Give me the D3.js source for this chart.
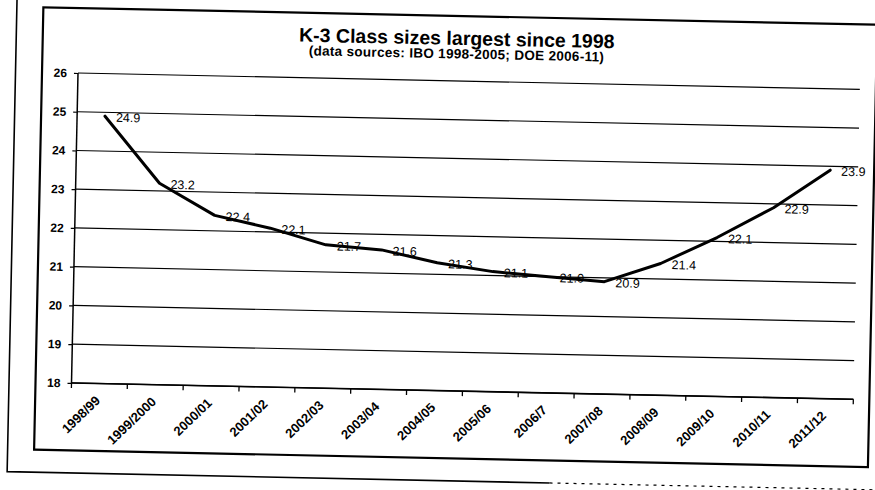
<!DOCTYPE html>
<html>
<head>
<meta charset="utf-8">
<script src="https://cdn.jsdelivr.net/npm/d3@7/dist/d3.min.js"></script>
<style>
  html, body { margin: 0; padding: 0; background: #fff; }
  svg { display: block; }
  text { font-family: "Liberation Sans", Arial, Helvetica, sans-serif; fill: #000; }
</style>
</head>
<body>
<svg id="chart" width="875" height="490"></svg>
<script>
// K-3 average class size by school year
const categories = ["1998/99", "1999/2000", "2000/01", "2001/02", "2002/03", "2003/04", "2004/05",
                    "2005/06", "2006/7", "2007/08", "2008/09", "2009/10", "2010/11", "2011/12"];
const classSize = [24.9, 23.2, 22.4, 22.1, 21.7, 21.6, 21.3, 21.1, 21.0, 20.9, 21.4, 22.1, 22.9, 23.9];
const yTicks = [18, 19, 20, 21, 22, 23, 24, 25, 26];
const title = "K-3 Class sizes largest since 1998";
const subtitle = "(data sources: IBO 1998-2005; DOE 2006-11)";

const plotW = 782, plotH = 310;
const font = "'Liberation Sans', Arial, sans-serif";

const svg = d3.select("#chart");

// the printed page sits slightly askew on the scanner bed
const g = svg.append("g").attr("transform", "translate(78,73) rotate(1.2)");

// page edge (solid on the left, fading to dots on the right) and chart frame
g.append("path")
  .attr("d", "M-62.5,-90 L-62.5,400 L480,400")
  .attr("fill", "none").attr("stroke", "#000").attr("stroke-width", 1.6);
g.append("path")
  .attr("d", "M480,400 L860,400")
  .attr("fill", "none").attr("stroke", "#000").attr("stroke-width", 1.2)
  .attr("stroke-dasharray", "3 5");
g.append("rect")
  .attr("x", -36).attr("y", -65).attr("width", 834).attr("height", 442.5)
  .attr("fill", "#fff").attr("stroke", "#000").attr("stroke-width", 2.2);

// titles
g.append("text").attr("x", 378).attr("y", -36).attr("text-anchor", "middle")
  .attr("font-size", 19.5).attr("font-weight", "bold")
  .text(title);
g.append("text").attr("x", 378).attr("y", -22.5).attr("text-anchor", "middle")
  .attr("font-size", 13.5).attr("font-weight", "bold").attr("letter-spacing", 0.3)
  .text(subtitle);

const x = d3.scaleBand().domain(categories).range([0, plotW]);
const y = d3.scaleLinear().domain([18, 26]).range([plotH, 0]);

// horizontal gridlines
g.append("g").selectAll("line").data(yTicks).join("line")
  .attr("x1", 0).attr("x2", plotW)
  .attr("y1", d => y(d)).attr("y2", d => y(d))
  .attr("stroke", "#000").attr("stroke-width", 1.2);

// y axis
const yAxis = g.append("g")
  .call(d3.axisLeft(y).tickValues(yTicks).tickSize(4).tickPadding(7).tickFormat(d3.format("d")));
yAxis.select(".domain").attr("stroke", "#000").attr("stroke-width", 1.5).attr("d", `M0,0V${plotH}`);
yAxis.selectAll(".tick line").attr("stroke", "#000").attr("stroke-width", 1.2);
yAxis.selectAll(".tick text").attr("font-size", 12).attr("font-weight", "bold").attr("font-family", font);

// x axis: category labels, with tick marks between categories
const xAxis = g.append("g").attr("transform", `translate(0,${plotH})`)
  .call(d3.axisBottom(x).tickSize(0).tickPadding(0));
xAxis.select(".domain").attr("stroke", "#000").attr("stroke-width", 1.6).attr("d", `M0,0H${plotW}`);
xAxis.selectAll(".tick text")
  .attr("font-size", 13).attr("font-weight", "bold").attr("font-family", font)
  .attr("text-anchor", "end")
  .attr("dy", 0)
  .attr("transform", "translate(2,18) rotate(-45)");
g.append("g").selectAll("line").data(d3.range(categories.length + 1)).join("line")
  .attr("x1", i => i * x.step()).attr("x2", i => i * x.step())
  .attr("y1", plotH).attr("y2", plotH + 5)
  .attr("stroke", "#000").attr("stroke-width", 1.3);

// class-size line
const cx = d => x(d) + x.bandwidth() / 2;
const line = d3.line().x((d, i) => cx(categories[i])).y(d => y(d));
g.append("path").datum(classSize)
  .attr("d", line)
  .attr("fill", "none").attr("stroke", "#000").attr("stroke-width", 3)
  .attr("stroke-linejoin", "round").attr("stroke-linecap", "round");

// value labels to the right of each point
g.append("g").selectAll("text").data(classSize).join("text")
  .attr("x", (d, i) => cx(categories[i]) + 11)
  .attr("y", d => y(d) + 1)
  .attr("dy", "0.35em")
  .attr("font-size", 12.5)
  .text(d => d3.format(".1f")(d));
</script>
</body>
</html>
